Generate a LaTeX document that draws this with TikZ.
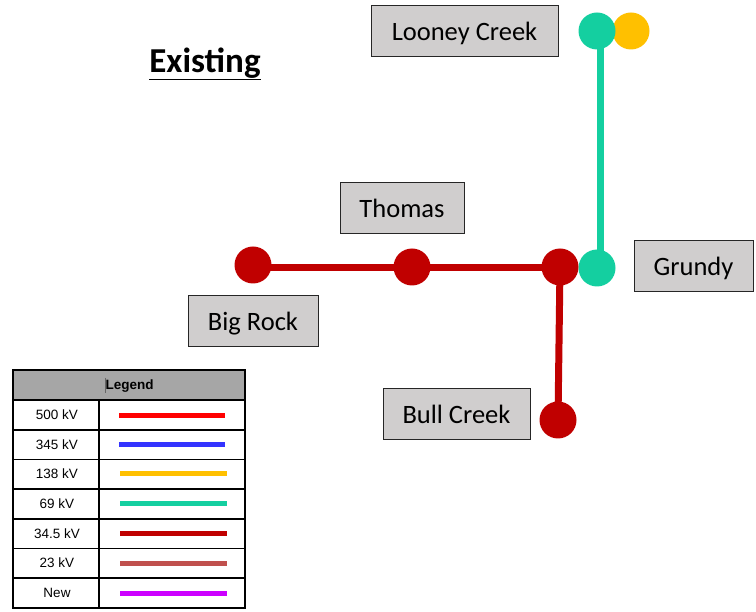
\documentclass[tikz,border=0pt]{standalone}
\usepackage{fontspec}
\setmainfont{Carlito}
\newfontfamily\legfont{Liberation Sans}
\definecolor{boxgray}{HTML}{D0CECE}
\definecolor{kvfivehundred}{HTML}{FF0000}
\definecolor{kvthreefortyfive}{HTML}{3333FF}
\definecolor{kvonethirtyeight}{HTML}{FFC000}
\definecolor{kvsixtynine}{HTML}{14CFA0}
\definecolor{kvthirtyfour}{HTML}{C00000}
\definecolor{kvtwentythree}{HTML}{C0504D}
\definecolor{kvnew}{HTML}{CC00FF}
\definecolor{leghead}{HTML}{A6A6A6}
\tikzset{
  x=1pt,y=-1pt,
  stationbox/.style={draw=black!85,line width=1pt,fill=boxgray,minimum height=51pt,font=\fontsize{26.5}{30}\selectfont,inner sep=0pt,text height=24pt,text depth=5pt},
  bus/.style={circle,minimum size=37pt,inner sep=0pt},
  redbus/.style={bus,fill=kvthirtyfour},
  tealbus/.style={bus,fill=kvsixtynine},
  yellowbus/.style={bus,fill=kvonethirtyeight},
  redline/.style={draw=kvthirtyfour,line width=7pt},
  tealline/.style={draw=kvsixtynine,line width=7pt},
  legline/.style={line width=5pt},
  legtext/.style={font=\legfont\fontsize{13.5}{15}\selectfont,anchor=center}
}
\begin{document}
\begin{tikzpicture}
\useasboundingbox (0,0) rectangle (756,612);
% title
\node[font=\bfseries\fontsize{35}{40}\selectfont] (title) at (205,64) {\underline{Existing}};
% station boxes
\node[stationbox,minimum width=187pt] (looneybox) at (464.5,31.5) {Looney Creek};
\node[stationbox,minimum width=124pt] (thomasbox) at (402,208) {Thomas};
\node[stationbox,minimum width=130pt] (bigrockbox) at (253,321.5) {Big Rock};
\node[stationbox,minimum width=119pt] (grundybox) at (693.5,266.5) {Grundy};
\node[stationbox,minimum width=147pt] (bullbox) at (456.5,414) {Bull Creek};
% buses
\coordinate (looneyteal) at (597,31);
\coordinate (looneyyellow) at (631,31);
\coordinate (grundyteal) at (597,268);
\coordinate (bigrock) at (253,265);
\coordinate (thomas) at (412,267);
\coordinate (junction) at (560,267);
\coordinate (bullcreek) at (558,420);
\coordinate (redstart) at (253,268);
\coordinate (redend) at (560,268);
\coordinate (tealtop) at (600,31);
\coordinate (tealbottom) at (600,268);
% lines
\draw[tealline] (tealtop) -- (tealbottom);
\draw[redline] (redstart) -- (redend);
\draw[redline] (junction) -- (bullcreek);
\node[yellowbus] (ly) at (looneyyellow) {};
\node[tealbus] (lt) at (looneyteal) {};
\node[tealbus] (gt) at (grundyteal) {};
\node[redbus] (br) at (bigrock) {};
\node[redbus] (th) at (thomas) {};
\node[redbus] (jn) at (junction) {};
\node[redbus] (bc) at (bullcreek) {};
% legend
\fill[leghead] (13,370) rectangle (245,400);
\draw[line width=1.5pt] (13,370) rectangle (245,608);
\foreach \yy in {400,430,459.5,489,519,548.5,578}{
  \draw[line width=1.5pt] (13,\yy) -- (245,\yy);
}
\draw[line width=1.5pt] (99,400) -- (99,608);
\node[font=\legfont\bfseries\fontsize{13.5}{15}\selectfont,anchor=west,inner sep=0pt] (legtitle) at (105.5,386) {Legend};
\draw[line width=0.6pt,black!60] (105,378) -- (105,393);
\node[legtext] (l1) at (57,415) {500 kV};
\node[legtext] (l2) at (57,444.5) {345 kV};
\node[legtext] (l3) at (57,474) {138 kV};
\node[legtext] (l4) at (57,504) {69 kV};
\node[legtext] (l5) at (57,533.5) {34.5 kV};
\node[legtext] (l6) at (57,563) {23 kV};
\node[legtext] (l7) at (57,593) {New};
\draw[legline,kvfivehundred] (119,415.5) -- (225,415.5);
\draw[legline,kvthreefortyfive] (119,444.5) -- (225,444.5);
\draw[legline,kvonethirtyeight] (120,474) -- (227,474);
\draw[legline,kvsixtynine] (120,504) -- (227,504);
\draw[legline,kvthirtyfour] (120,534) -- (227,534);
\draw[legline,kvtwentythree] (120,563.5) -- (227,563.5);
\draw[legline,kvnew] (120,593) -- (227,593);
\end{tikzpicture}
\end{document}
